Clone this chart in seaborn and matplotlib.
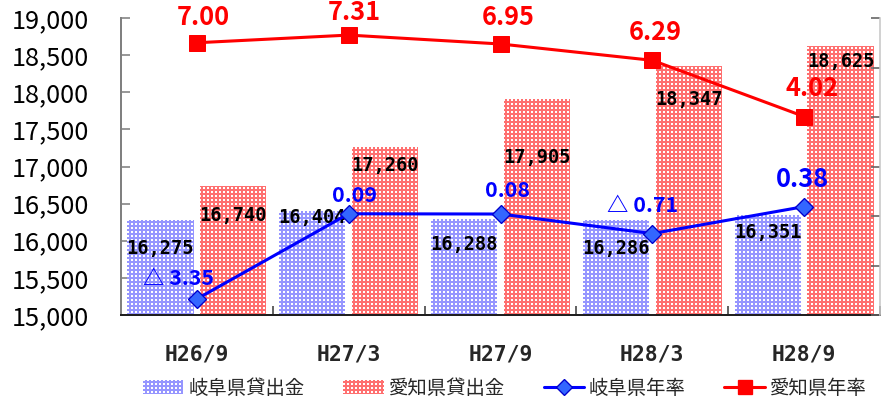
import matplotlib
matplotlib.use("Agg")
import matplotlib.pyplot as plt
from matplotlib.patches import Patch
from matplotlib.lines import Line2D
import seaborn as sns
import pandas as pd
import numpy as np

# ---- data ----
categories = ["H26/9", "H27/3", "H27/9", "H28/3", "H28/9"]
gifu_loans = [16275, 16404, 16288, 16286, 16351]
aichi_loans = [16740, 17260, 17905, 18347, 18625]
gifu_rate = [-3.35, 0.09, 0.08, -0.71, 0.38]
aichi_rate = [7.00, 7.31, 6.95, 6.29, 4.02]
series_names = ["岐阜県貸出金", "愛知県貸出金", "岐阜県年率", "愛知県年率"]

# ---- label placement (points) and sizes ----
gifu_bar_lab_off = [21, 5, 19, 22, 13.5]
aichi_bar_lab_off = [22, 14, 43.5, 25, 12]
aichi_rate_lab_off = [(5, 19), (4.5, 17), (6, 19.5), (2, 21), (6, 21)]
gifu_rate_lab_off = [(-13.5, 15), (4, 14), (5, 18), (-7, 21), (-1.5, 20)]
gifu_rate_lab_size = [16, 16, 16, 16, 19]

BLUE_BAR = "#9696ff"
RED_BAR = "#ff7070"
BLUE_LINE = "#0000ff"
RED_LINE = "#ff0000"

sns.set_theme(style="white")
plt.rcParams["font.family"] = ["Noto Sans CJK JP", "DejaVu Sans"]
plt.rcParams["hatch.linewidth"] = 1.5

DPI = 96
fig = plt.figure(figsize=(881 / DPI, 401 / DPI), dpi=DPI)
W, H = 881, 401
ax = fig.add_axes([121 / W, (H - 315) / H, (880 - 121) / W, (315 - 18) / H])

df_bar = pd.DataFrame({
    "category": categories * 2,
    "series": [series_names[0]] * len(categories) + [series_names[1]] * len(categories),
    "value": gifu_loans + aichi_loans,
})
sns.barplot(data=df_bar, x="category", y="value", hue="series",
            hue_order=series_names[:2], palette=[BLUE_BAR, RED_BAR],
            width=0.96, gap=0.09, errorbar=None, saturation=1,
            legend=False, ax=ax)

for cont, col in zip(ax.containers, [BLUE_BAR, RED_BAR]):
    for bar in cont:
        bar.set_facecolor("white")
        bar.set_edgecolor(col)
        bar.set_hatch("++++")
        bar.set_linewidth(0)

ax.set_ylim(15000, 19000)
ax.set_yticks(np.arange(15000, 19001, 500))
ax.yaxis.set_major_formatter(matplotlib.ticker.FuncFormatter(lambda v, p: f"{int(v):,}"))
ax.set_xlim(-0.5, len(categories) - 0.5)
ax.set_xlabel("")
ax.set_ylabel("")

# bar value labels
for cont, offs in zip(ax.containers, [gifu_bar_lab_off, aichi_bar_lab_off]):
    for bar, off in zip(cont, offs):
        v = bar.get_height()
        ax.annotate(f"{int(round(v)):,}",
                    xy=(bar.get_x() + bar.get_width() / 2, v),
                    xytext=(0, -off), textcoords="offset points",
                    ha="center", va="center", fontsize=14, fontweight="bold",
                    family=["DejaVu Sans Mono"], color="black", zorder=5)

for s in ["top", "right"]:
    ax.spines[s].set_visible(False)
ax.spines["left"].set_color("#808080")
ax.spines["left"].set_linewidth(1.5)
ax.spines["bottom"].set_color("#202020")
ax.spines["bottom"].set_linewidth(1.5)

ax.tick_params(axis="y", direction="in", length=7, width=1.2, color="#808080",
               labelsize=19, pad=24, left=True, labelcolor="black")
ax.tick_params(axis="x", which="major", length=0, pad=22, labelsize=16)
for lab in ax.get_xticklabels():
    lab.set_fontweight("bold")
    lab.set_family(["DejaVu Sans Mono"])
ax.set_xticks(np.arange(len(categories) + 1) - 0.5, minor=True)
ax.tick_params(axis="x", which="minor", direction="in", length=7, width=1.2,
               color="#404040", bottom=True)

# ---- secondary axis with rates ----
ax2 = ax.twinx()
sns.lineplot(x=categories, y=gifu_rate, ax=ax2, color=BLUE_LINE, marker="D",
             markersize=10, markerfacecolor="#3366ff", markeredgecolor="#0000cc",
             markeredgewidth=1, linewidth=2.3, sort=False)
sns.lineplot(x=categories, y=aichi_rate, ax=ax2, color=RED_LINE, marker="s",
             markersize=12, markerfacecolor=RED_LINE, markeredgecolor=RED_LINE,
             linewidth=2.3, sort=False)
ax2.set_ylim(-4, 8)
ax2.set_yticks(np.arange(-4, 8.1, 2))
ax2.set_yticklabels([])
ax2.set_ylabel("")
ax2.tick_params(axis="y", direction="in", length=7, width=1.2, color="#606060", right=True)
for s in ["top", "left", "bottom"]:
    ax2.spines[s].set_visible(False)
ax2.spines["right"].set_color("#c8c8c8")
ax2.spines["right"].set_linewidth(1.2)

def rate_text(v):
    return f"△ {abs(v):.2f}" if v < 0 else f"{v:.2f}"

for i, (v, off) in enumerate(zip(aichi_rate, aichi_rate_lab_off)):
    ax2.annotate(rate_text(v), xy=(i, v), xytext=off, textcoords="offset points",
                 ha="center", va="center", fontsize=19, fontweight="bold",
                 color=RED_LINE, zorder=6)
for i, (v, off, fs) in enumerate(zip(gifu_rate, gifu_rate_lab_off, gifu_rate_lab_size)):
    ax2.annotate(rate_text(v), xy=(i, v), xytext=off, textcoords="offset points",
                 ha="center", va="center", fontsize=fs, fontweight="bold",
                 color=BLUE_LINE, zorder=6)

# ---- legend ----
handles = [
    Patch(facecolor="white", edgecolor=BLUE_BAR, hatch="++++", linewidth=0),
    Patch(facecolor="white", edgecolor=RED_BAR, hatch="++++", linewidth=0),
    Line2D([0], [0], color=BLUE_LINE, lw=2.3, marker="D", markersize=9,
           markerfacecolor="#3366ff", markeredgecolor="#0000cc"),
    Line2D([0], [0], color=RED_LINE, lw=2.3, marker="s", markersize=10,
           markerfacecolor=RED_LINE, markeredgecolor=RED_LINE),
]
fig.legend(handles, series_names, loc="center", bbox_to_anchor=(0.573, 1 - 388 / H),
           ncol=4, frameon=False, fontsize=14.5, handlelength=2.1,
           handletextpad=0.25, columnspacing=2.0)

fig.savefig("out.png", dpi=DPI)
